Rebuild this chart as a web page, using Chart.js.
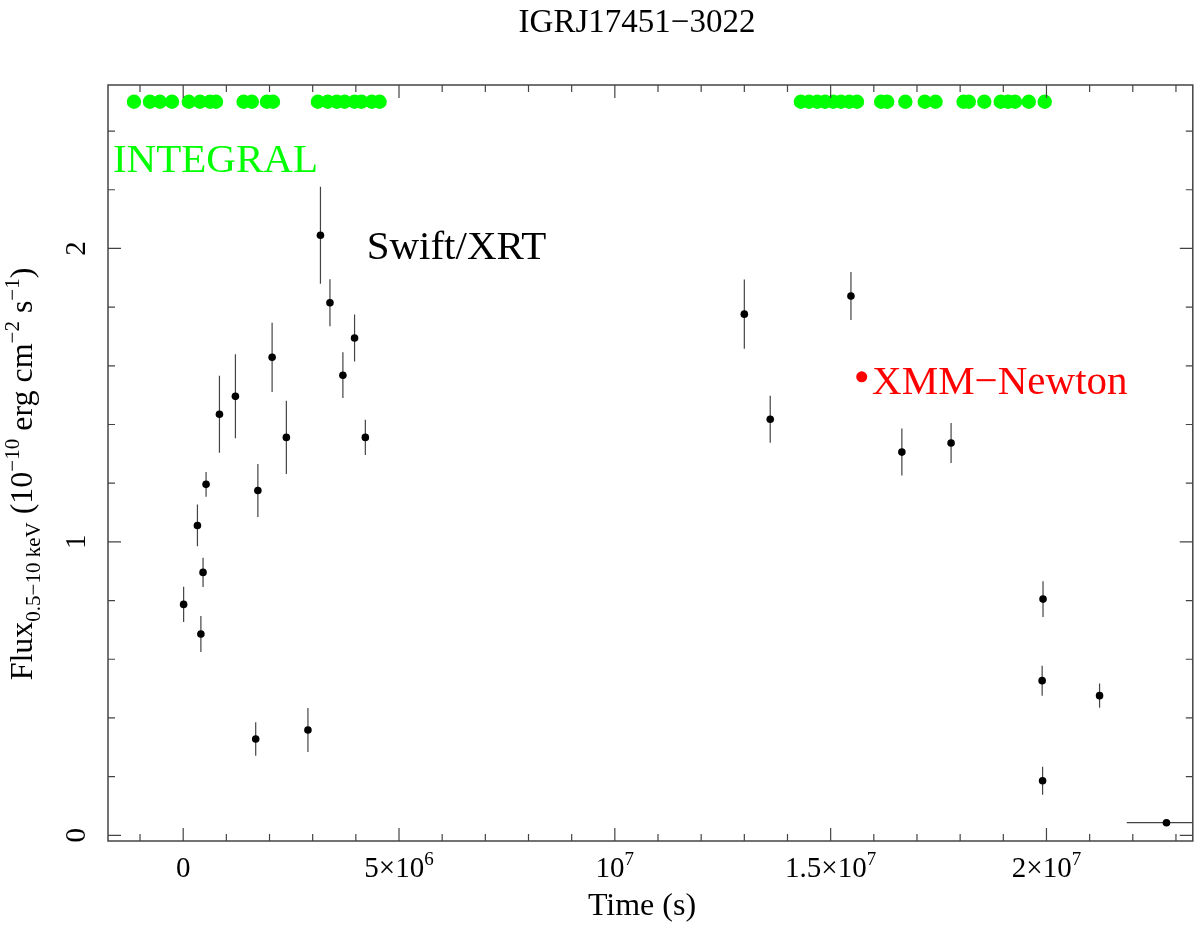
<!DOCTYPE html>
<html><head><meta charset="utf-8">
<script src="https://cdn.jsdelivr.net/npm/chart.js@4.4.1/dist/chart.umd.min.js"></script>
<style>html,body{margin:0;padding:0;background:#fff;}#wrap{width:1200px;height:926px;}</style>
</head><body><div id="wrap"><canvas id="c" width="1200" height="926"></canvas></div>
<script>
// ---------------- DATA ----------------
const chartTitle = 'IGRJ17451\u22123022';
// Swift/XRT light curve (time in s, flux in 1e-10 erg cm^-2 s^-1)
const swiftTime = [0.01e6, 0.33e6, 0.41e6, 0.46e6, 0.53e6, 0.84e6, 1.21e6, 1.73e6, 1.68e6, 2.06e6, 2.39e6, 2.89e6, 3.18e6, 3.40e6, 3.70e6, 3.97e6, 4.22e6, 13.0e6, 13.6e6, 15.47e6, 16.65e6, 17.79e6, 19.92e6, 19.90e6, 19.91e6, 21.23e6, 22.78e6];
const swiftFlux = [0.787, 1.056, 0.686, 0.896, 1.196, 1.435, 1.496, 1.175, 0.328, 1.629, 1.356, 0.359, 2.045, 1.815, 1.568, 1.695, 1.356, 1.776, 1.418, 1.838, 1.306, 1.337, 0.805, 0.527, 0.186, 0.476, 0.043];
const swiftFluxErr = [0.060, 0.071, 0.061, 0.050, 0.042, 0.131, 0.143, 0.090, 0.057, 0.118, 0.125, 0.075, 0.165, 0.080, 0.078, 0.080, 0.060, 0.118, 0.080, 0.082, 0.080, 0.068, 0.061, 0.051, 0.048, 0.041, 0.000];
const swiftTimeErr = [0, 0, 0, 0, 0, 0, 0, 0, 0, 0, 0, 0, 0, 0, 0, 0, 0, 0, 0, 0, 0, 0, 0, 0, 0, 0, 0.92e6];
// INTEGRAL observation times (plotted at a fixed level)
const integralTime = [-1.14e6, -0.77e6, -0.54e6, -0.26e6, 0.13e6, 0.39e6, 0.62e6, 0.76e6, 1.40e6, 1.59e6, 1.94e6, 2.08e6, 3.12e6, 3.35e6, 3.56e6, 3.74e6, 3.97e6, 4.13e6, 4.37e6, 4.55e6,
  14.31e6, 14.50e6, 14.69e6, 14.87e6, 15.06e6, 15.24e6, 15.43e6, 15.61e6, 16.17e6, 16.31e6, 16.73e6, 17.18e6, 17.43e6, 18.08e6, 18.20e6, 18.56e6, 18.94e6, 19.11e6, 19.27e6, 19.59e6, 19.96e6];
const integralLevel = 2.5;
// XMM-Newton marker
const xmmTime = [15.72e6];
const xmmFlux = [1.5625];
// Axes
const xRange = [-1.742e6, 23.39e6];
const yRange = [-0.0194, 2.557];
const xTickValues = [0, 5e6, 1e7, 1.5e7, 2e7];
const xTickLabels = ['0', '5\u00d710^6', '10^7', '1.5\u00d710^7', '2\u00d710^7'];
const xMinorStep = 1e6;
const yTickValues = [0, 1, 2];
const yTickLabels = ['0', '1', '2'];
const yMinorStep = 0.2;
const xAxisTitle = 'Time (s)';
const yAxisTitleParts = [['Flux','n'],['0.5\u221210 keV','sub'],[' (10','n'],['\u221210','sup'],[' erg cm','n'],['\u22122','sup'],[' s','n'],['\u22121','sup'],[')','n']];
const annotations = [
  {text:'INTEGRAL', x:-1.627e6, y:2.26, color:'#00ff00'},
  {text:'Swift/XRT', x:4.25e6, y:1.964, color:'#000000'},
  {text:'XMM\u2212Newton', x:15.96e6, y:1.5036, color:'#ff0000'}
];

// ---------------- DRAW ----------------
const FONT = "'Liberation Serif','Times New Roman',serif";
const pts = (xs, ys) => xs.map((x, i) => ({x: x, y: ys[i]}));

function drawRich(ctx, parts, x, y, big, small, align) {
  const widths = parts.map(p => { ctx.font = (p[1]==='n'?big:small) + 'px ' + FONT; return ctx.measureText(p[0]).width; });
  const total = widths.reduce((a,b)=>a+b,0);
  let cx = align==='center' ? x - total/2 : x;
  ctx.textAlign = 'left'; ctx.textBaseline = 'alphabetic';
  parts.forEach((p, i) => {
    ctx.font = (p[1]==='n'?big:small) + 'px ' + FONT;
    let dy = 0;
    if (p[1]==='sub') dy = big*0.26;
    if (p[1]==='sup') dy = -big*0.40;
    ctx.fillText(p[0], cx, y + dy);
    cx += widths[i];
  });
}
function labelParts(s) {
  const k = s.indexOf('^');
  if (k < 0) return [[s,'n']];
  return [[s.slice(0,k),'n'],[s.slice(k+1),'sup']];
}

const errPlugin = {
  id: 'errbars',
  beforeDatasetsDraw(chart) {
    const {ctx, chartArea: a, scales: {x, y}} = chart;
    ctx.save();
    ctx.beginPath(); ctx.rect(a.left, a.top, a.right - a.left, a.bottom - a.top); ctx.clip();
    ctx.strokeStyle = '#444'; ctx.lineWidth = 1.2;
    swiftTime.forEach((t, i) => {
      const px = x.getPixelForValue(t), py = y.getPixelForValue(swiftFlux[i]);
      ctx.beginPath();
      if (swiftFluxErr[i] > 0) {
        ctx.moveTo(px, y.getPixelForValue(swiftFlux[i] - swiftFluxErr[i]));
        ctx.lineTo(px, y.getPixelForValue(swiftFlux[i] + swiftFluxErr[i]));
      }
      if (swiftTimeErr[i] > 0) {
        ctx.moveTo(x.getPixelForValue(t - swiftTimeErr[i]), py);
        ctx.lineTo(x.getPixelForValue(t + swiftTimeErr[i]), py);
      }
      ctx.stroke();
    });
    ctx.restore();
  },
  afterDraw(chart) {
    const {ctx, chartArea: a, scales: {x, y}} = chart;
    ctx.save();
    // frame
    ctx.strokeStyle = '#444'; ctx.lineWidth = 1.5;
    ctx.strokeRect(a.left, a.top, a.right - a.left, a.bottom - a.top);
    ctx.lineWidth = 1.2;
    const MAJ = 13, MIN = 7;
    const isMaj = (arr, v) => arr.some(m => Math.abs(m - v) < 1e-9 * Math.max(1, Math.abs(v)));
    ctx.beginPath();
    for (let v = Math.ceil(xRange[0]/xMinorStep)*xMinorStep; v <= xRange[1]; v += xMinorStep) {
      const px = x.getPixelForValue(v), L = isMaj(xTickValues, v) ? MAJ : MIN;
      ctx.moveTo(px, a.bottom); ctx.lineTo(px, a.bottom - L);
      ctx.moveTo(px, a.top); ctx.lineTo(px, a.top + L);
    }
    for (let k = Math.ceil(yRange[0]/yMinorStep); k*yMinorStep <= yRange[1]; k++) {
      const v = +(k*yMinorStep).toFixed(6);
      const py = y.getPixelForValue(v), L = isMaj(yTickValues, v) ? MAJ : MIN;
      ctx.moveTo(a.left, py); ctx.lineTo(a.left + L, py);
      ctx.moveTo(a.right, py); ctx.lineTo(a.right - L, py);
    }
    ctx.stroke();
    ctx.fillStyle = '#000';
    // x tick labels
    xTickValues.forEach((v, i) => {
      drawRich(ctx, labelParts(xTickLabels[i]), x.getPixelForValue(v), a.bottom + 36, 29, 19, 'center');
    });
    // y tick labels (rotated)
    yTickValues.forEach((v, i) => {
      ctx.save();
      ctx.translate(a.left - 23, y.getPixelForValue(v));
      ctx.rotate(-Math.PI/2);
      ctx.font = '29px ' + FONT; ctx.textAlign = 'center'; ctx.textBaseline = 'alphabetic';
      ctx.fillText(yTickLabels[i], 0, 0);
      ctx.restore();
    });
    // x axis title
    ctx.font = '32px ' + FONT; ctx.textAlign = 'center'; ctx.textBaseline = 'alphabetic';
    ctx.fillText(xAxisTitle, 642, 915);
    // y axis title
    ctx.save();
    ctx.translate(32, 474); ctx.rotate(-Math.PI/2);
    drawRich(ctx, yAxisTitleParts, 0, 0, 32, 21, 'center');
    ctx.restore();
    // title
    ctx.font = '33px ' + FONT; ctx.textAlign = 'center';
    ctx.fillText(chartTitle, 637, 32);
    // annotations
    ctx.font = '41px ' + FONT; ctx.textAlign = 'left';
    annotations.forEach(an => {
      ctx.fillStyle = an.color;
      ctx.fillText(an.text, x.getPixelForValue(an.x), y.getPixelForValue(an.y));
    });
    ctx.restore();
  }
};

new Chart(document.getElementById('c'), {
  type: 'scatter',
  data: {
    datasets: [
      {label:'INTEGRAL', data: pts(integralTime, integralTime.map(() => integralLevel)), backgroundColor:'#00ff00', borderColor:'#00ff00', pointRadius:7.2, borderWidth:0},
      {label:'Swift/XRT', data: pts(swiftTime, swiftFlux), backgroundColor:'#000', borderColor:'#000', pointRadius:3.8, borderWidth:0},
      {label:'XMM-Newton', data: pts(xmmTime, xmmFlux), backgroundColor:'#ff0000', borderColor:'#ff0000', pointRadius:5.5, borderWidth:0}
    ]
  },
  options: {
    responsive: false, animation: false, devicePixelRatio: 1,
    layout: {padding: {left: 108, top: 85, right: 6, bottom: 85}},
    plugins: {legend: {display: false}, tooltip: {enabled: false}, title: {display: false}},
    scales: {
      x: {type:'linear', min: xRange[0], max: xRange[1], display: false},
      y: {type:'linear', min: yRange[0], max: yRange[1], display: false}
    }
  },
  plugins: [errPlugin]
});
</script></body></html>
